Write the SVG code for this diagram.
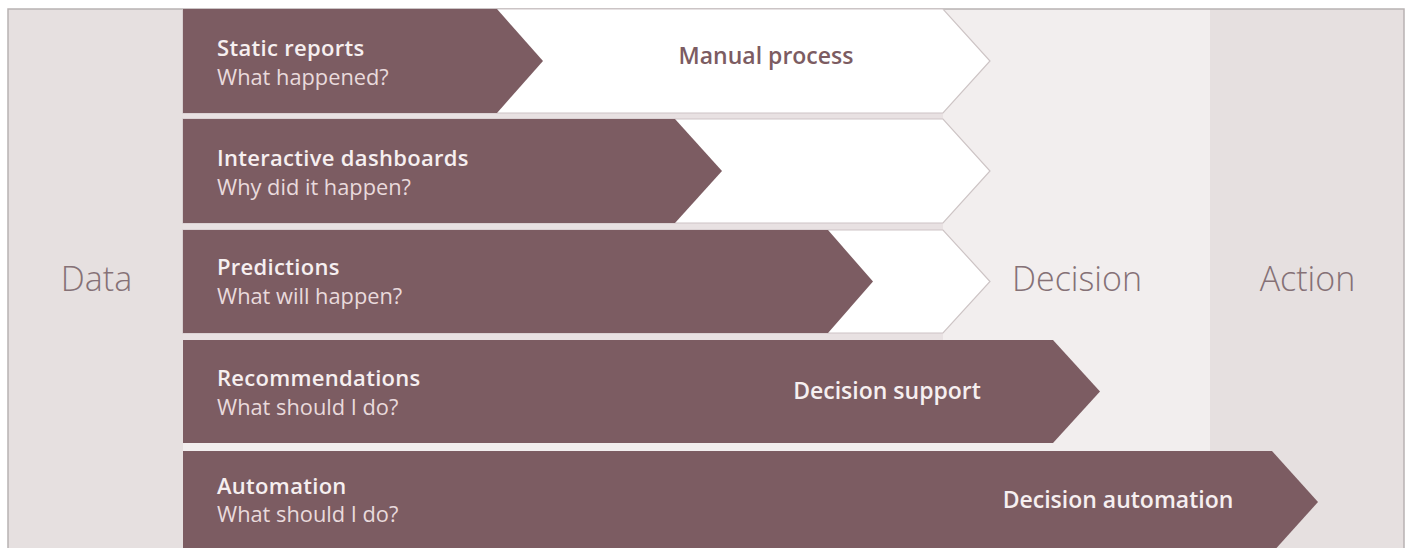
<svg xmlns="http://www.w3.org/2000/svg" width="1410" height="548" viewBox="0 0 1410 548">
<style>
.brown{fill:#7c5c62}
.white{fill:#ffffff;stroke:#cdc4c5;stroke-width:1.2}
.gap{fill:#e8e1e2}
.title{font-family:"Open Sans","Liberation Sans",sans-serif;font-size:22px;font-weight:600;fill:#f6eff0;letter-spacing:0.3px}
.sub{font-family:"Open Sans","Liberation Sans",sans-serif;font-size:21.8px;font-weight:400;fill:#e9dadc}
.lab{font-family:"Open Sans","Liberation Sans",sans-serif;font-size:23px;font-weight:600;fill:#f6eff0}
.mlab{font-family:"Open Sans","Liberation Sans",sans-serif;font-size:23px;font-weight:600;fill:#7c5c62}
.col{font-family:"Open Sans","Liberation Sans",sans-serif;font-size:34px;font-weight:300;fill:#857176;text-anchor:middle}
</style>
<rect x="0" y="0" width="1410" height="548" fill="#ffffff"/>
<g id="columns">
<rect x="8" y="9" width="175" height="545" fill="#e6e0e0"/>
<rect x="183" y="9" width="1027" height="545" fill="#f2eeee"/>
<rect x="1210" y="9" width="194" height="545" fill="#e6e0e0"/>
<rect x="8" y="9" width="1396" height="545" fill="none" stroke="#b8b2b3" stroke-width="1.5"/>
<rect class="gap" x="183" y="113" width="760" height="6"/>
<rect class="gap" x="183" y="223" width="760" height="7"/>
<rect class="gap" x="183" y="333" width="760" height="7"/>
<text class="col" x="96.5" y="291">Data</text>
<text class="col" x="1077" y="291">Decision</text>
<text class="col" x="1307.5" y="291">Action</text>
</g>
<g id="row1">
<path class="white" d="M183,9 H943 L990,61 L943,113 H183 Z"/>
<path class="brown" d="M183,9 H497 L543,61 L497,113 H183 Z"/>
<text class="title" x="217" y="56">Static reports</text>
<text class="sub" x="217" y="85">What happened?</text>
<text class="mlab" x="766" y="64" text-anchor="middle">Manual process</text>
</g>
<g id="row2">
<path class="white" d="M183,119 H943 L990,171 L943,223 H183 Z"/>
<path class="brown" d="M183,119 H675 L722,171 L675,223 H183 Z"/>
<text class="title" x="217" y="166">Interactive dashboards</text>
<text class="sub" x="217" y="195">Why did it happen?</text>
</g>
<g id="row3">
<path class="white" d="M183,230 H943 L990,281.5 L943,333 H183 Z"/>
<path class="brown" d="M183,230 H828 L873,281.5 L828,333 H183 Z"/>
<text class="title" x="217" y="275">Predictions</text>
<text class="sub" x="217" y="304">What will happen?</text>
</g>
<g id="row4">
<path class="brown" d="M183,340 H1053 L1100,391.5 L1053,443 H183 Z"/>
<text class="title" x="217" y="386">Recommendations</text>
<text class="sub" x="217" y="415">What should I do?</text>
<text class="lab" x="887" y="399" text-anchor="middle">Decision support</text>
</g>
<g id="row5">
<path class="brown" d="M183,451 H1272 L1318,502 L1272,553 H183 Z"/>
<text class="title" x="217" y="494">Automation</text>
<text class="sub" x="217" y="522">What should I do?</text>
<text class="lab" x="1118" y="508" text-anchor="middle">Decision automation</text>
</g>
<g id="connectors"></g>
</svg>
